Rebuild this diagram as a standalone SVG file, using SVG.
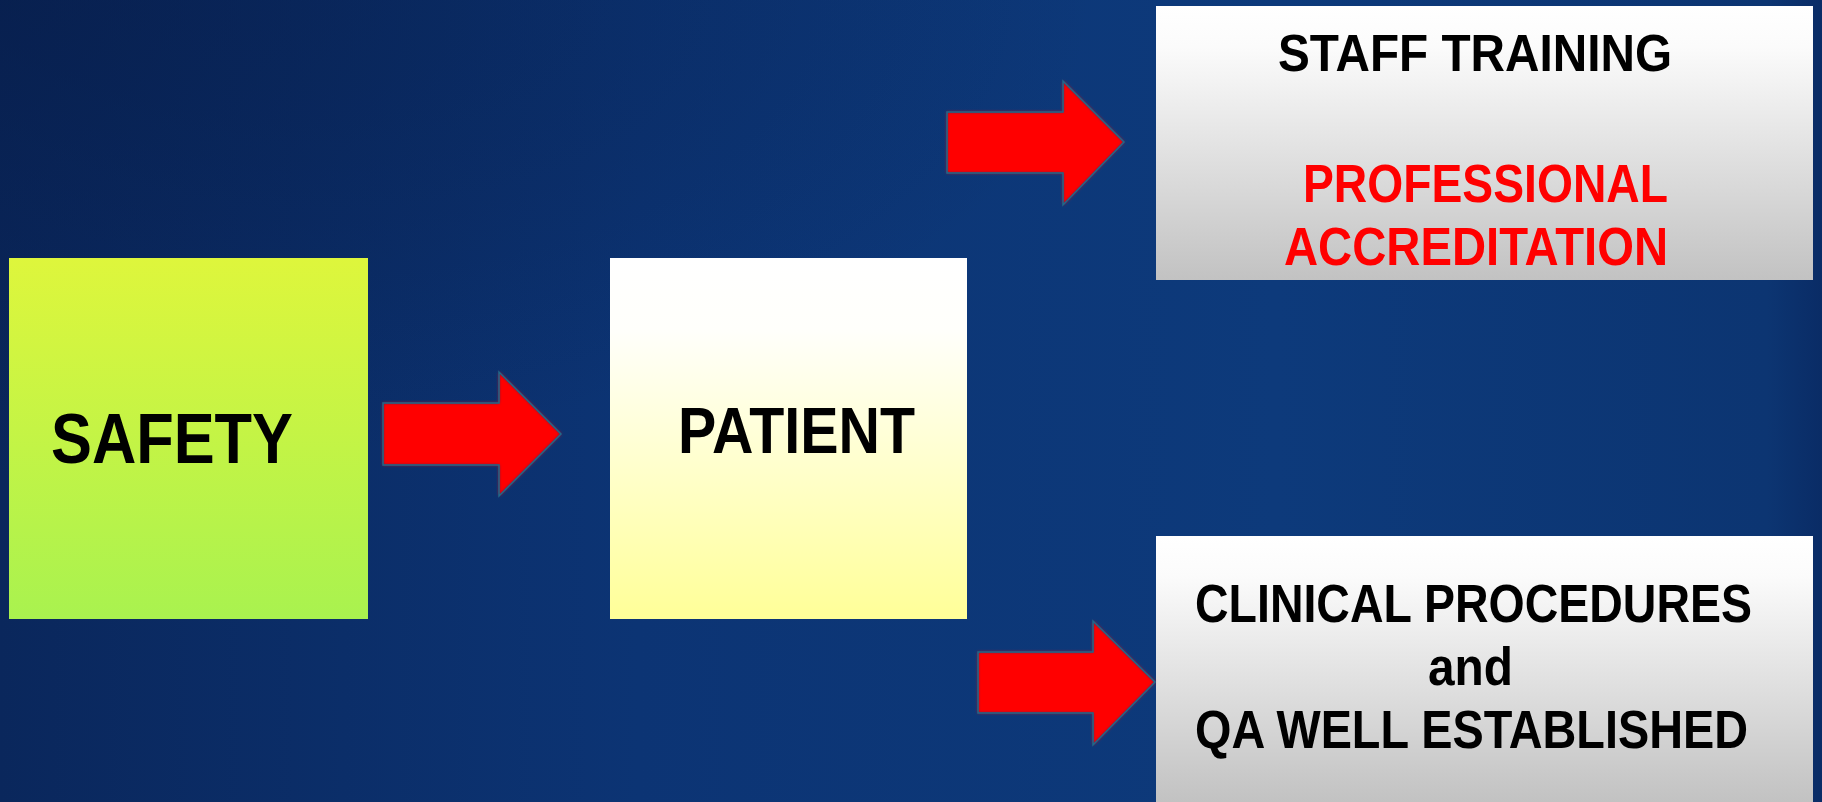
<svg xmlns="http://www.w3.org/2000/svg" width="1822" height="802" viewBox="0 0 1822 802">
  <defs>
    <linearGradient id="bg" x1="0" y1="0" x2="1" y2="0">
      <stop offset="0" stop-color="#0a275c"/>
      <stop offset="0.35" stop-color="#0c3474"/>
      <stop offset="0.7" stop-color="#0d3a7b"/>
      <stop offset="0.97" stop-color="#0c3572"/>
      <stop offset="1" stop-color="#0a2c66"/>
    </linearGradient>
    <radialGradient id="bgShade" cx="0" cy="0" r="0.6">
      <stop offset="0" stop-color="#061a45" stop-opacity="0.55"/>
      <stop offset="1" stop-color="#061a45" stop-opacity="0"/>
    </radialGradient>
    <linearGradient id="gSafety" x1="0" y1="0" x2="0" y2="1">
      <stop offset="0" stop-color="#def63c"/>
      <stop offset="1" stop-color="#a9f24f"/>
    </linearGradient>
    <linearGradient id="gPatient" x1="0" y1="0" x2="0" y2="1">
      <stop offset="0" stop-color="#ffffff"/>
      <stop offset="0.2" stop-color="#fffffb"/>
      <stop offset="1" stop-color="#ffff98"/>
    </linearGradient>
    <linearGradient id="gGray" x1="0" y1="0" x2="0" y2="1">
      <stop offset="0" stop-color="#ffffff"/>
      <stop offset="0.15" stop-color="#fbfbfb"/>
      <stop offset="1" stop-color="#c2c2c2"/>
    </linearGradient>
    <filter id="soft" x="-5%" y="-5%" width="110%" height="110%">
      <feGaussianBlur stdDeviation="1.6"/>
    </filter>
    <style>
      .lbl { font-family: "Liberation Sans", Arial, sans-serif; font-weight: 700; fill: #000; }
      .red { fill: #ff0000; }
      .arrowFill { fill: #ff0000; filter: url(#soft); }
      .arrowEdge { fill: none; stroke: #1d6a8c; stroke-width: 1.5; stroke-linejoin: miter; }
    </style>
  </defs>

  <rect x="0" y="0" width="1822" height="802" fill="url(#bg)"/>
  <rect x="0" y="0" width="1822" height="802" fill="url(#bgShade)"/>

  <g id="node-safety">
    <rect x="9" y="258" width="359" height="361" fill="url(#gSafety)"/>
    <text class="lbl" x="51" y="463" font-size="71" textLength="242" lengthAdjust="spacingAndGlyphs">SAFETY</text>
  </g>

  <g id="node-patient">
    <rect x="610" y="258" width="357" height="361" fill="url(#gPatient)"/>
    <text class="lbl" x="678" y="453" font-size="64" textLength="237" lengthAdjust="spacingAndGlyphs">PATIENT</text>
  </g>

  <g id="node-staff">
    <rect x="1156" y="6" width="657" height="274" fill="url(#gGray)"/>
    <text class="lbl" x="1278" y="71" font-size="51" textLength="394" lengthAdjust="spacingAndGlyphs">STAFF TRAINING</text>
    <text class="lbl red" x="1303" y="202" font-size="54" textLength="365" lengthAdjust="spacingAndGlyphs">PROFESSIONAL</text>
    <text class="lbl red" x="1284" y="265" font-size="54" textLength="384" lengthAdjust="spacingAndGlyphs">ACCREDITATION</text>
  </g>

  <g id="node-clinical">
    <rect x="1156" y="536" width="657" height="266" fill="url(#gGray)"/>
    <g transform="translate(1195,622) scale(1,1.174)">
      <text class="lbl" x="0" y="0" font-size="46" textLength="557" lengthAdjust="spacingAndGlyphs">CLINICAL PROCEDURES</text>
    </g>
    <g transform="translate(1428,685) scale(1,1.174)">
      <text class="lbl" x="0" y="0" font-size="46" textLength="85" lengthAdjust="spacingAndGlyphs">and</text>
    </g>
    <g transform="translate(1195,748) scale(1,1.174)">
      <text class="lbl" x="0" y="0" font-size="46" textLength="553" lengthAdjust="spacingAndGlyphs">QA WELL ESTABLISHED</text>
    </g>
  </g>

  <g id="connectors">
    <g id="arrow-safety-patient">
      <polygon class="arrowFill" points="383,403 499,403 499,372 561,434 499,496 499,465 383,465"/>
      <polygon class="arrowEdge" points="383,403 499,403 499,372 561,434 499,496 499,465 383,465"/>
    </g>
    <g id="arrow-patient-staff">
      <polygon class="arrowFill" points="947,112 1063,112 1063,81 1124,142 1063,205 1063,173 947,173"/>
      <polygon class="arrowEdge" points="947,112 1063,112 1063,81 1124,142 1063,205 1063,173 947,173"/>
    </g>
    <g id="arrow-patient-clinical">
      <polygon class="arrowFill" points="978,652 1093,652 1093,621 1155,682 1093,745 1093,713 978,713"/>
      <polygon class="arrowEdge" points="978,652 1093,652 1093,621 1155,682 1093,745 1093,713 978,713"/>
    </g>
  </g>
</svg>
